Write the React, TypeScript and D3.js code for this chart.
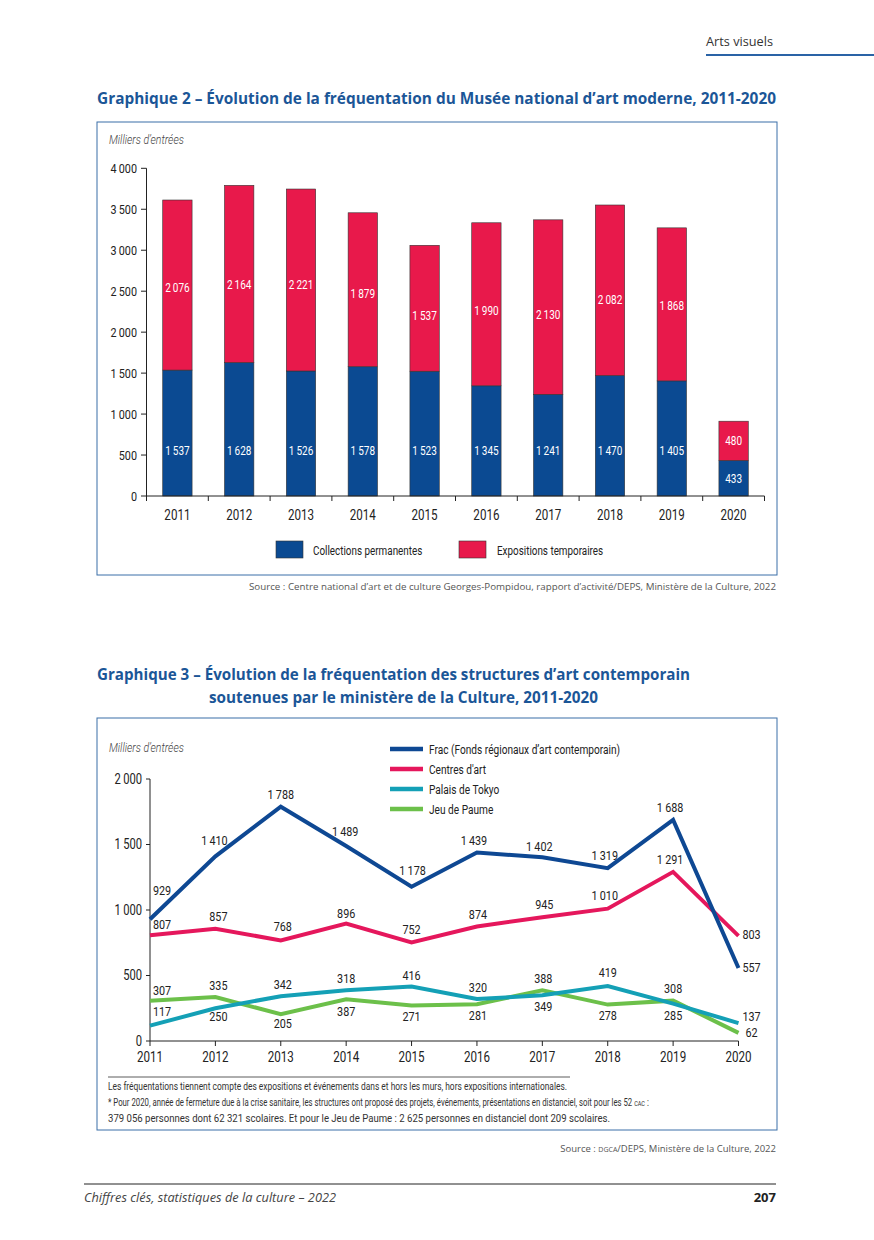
import React from "react";
import * as d3 from "d3";

// ---------- Data: Graphique 2 ----------
const years = ["2011", "2012", "2013", "2014", "2015", "2016", "2017", "2018", "2019", "2020"];
const permanentes = [1537, 1628, 1526, 1578, 1523, 1345, 1241, 1470, 1405, 433];
const temporaires = [2076, 2164, 2221, 1879, 1537, 1990, 2130, 2082, 1868, 480];
const barTicks = [0, 500, 1000, 1500, 2000, 2500, 3000, 3500, 4000];
const barLegend = ["Collections permanentes", "Expositions temporaires"];

// ---------- Data: Graphique 3 ----------
const frac = [929, 1410, 1788, 1489, 1178, 1439, 1402, 1319, 1688, 557];
const centresArt = [807, 857, 768, 896, 752, 874, 945, 1010, 1291, 803];
const palaisTokyo = [117, 250, 342, 387, 416, 320, 349, 419, 285, 137];
const jeuPaume = [307, 335, 205, 318, 271, 281, 388, 278, 308, 62];
const lineTicks = [0, 500, 1000, 1500, 2000];
const seriesNames = [
  "Frac (Fonds régionaux d\u2019art contemporain)",
  "Centres d'art",
  "Palais de Tokyo",
  "Jeu de Paume",
];

// ---------- Styles / layout ----------
const COND = "Roboto, 'Noto Sans', sans-serif";
const SANS = "'Open Sans', 'Noto Sans', sans-serif";
const BLUE = "#0b4a92";
const RED = "#e8194b";
const TITLE = "#1b5697";
const BOX = "#3a6fa8";
const lineColors = ["#0e4893", "#e5175c", "#14a0b6", "#6cc04a"];

// label offsets (px) for bar chart red labels
const redDy = [3, 11, 5, 4, 7, 6, 8, 9, 1, 0];
// line label offsets [dx, dy] per series
const lineLabelOff: number[][][] = [
  [[12, -29], [-1, -16], [0, -12], [-1, -15], [1, -16], [-3, -12], [-3, -11], [-3, -13], [-3, -13], [13, -1]],
  [[12, -11], [3, -12], [2, -14], [0, -10], [0, -13], [1, -12], [2, -13], [-3, -13], [-3, -13], [13, -2]],
  [[12, -14], [3, 8], [2, -12], [0, 21], [0, -11.5], [1, -11.4], [1, 11], [0, -14], [0, 12], [13, -7]],
  [[12, -11], [3, -12], [2, 9], [0, -21], [0, 10.5], [1, 11], [1, -12], [0, 11], [0, -12], [13, -1]],
];

const fmt = (v: number) => {
  const s = String(v);
  return s.length > 3 ? s.slice(0, s.length - 3) + "\u2009" + s.slice(-3) : s;
};

type CTProps = {
  x: number;
  y: number;
  size: number;
  anchor?: "start" | "middle" | "end";
  sx?: number;
  fill?: string;
  italic?: boolean;
  weight?: number;
  family?: string;
  children: React.ReactNode;
};
// condensed text: horizontal scale around the anchor point
function CT({ x, y, size, anchor = "start", sx = 0.8, fill = "#222", italic, weight, family = COND, children }: CTProps) {
  return (
    <text
      transform={`translate(${x},${y}) scale(${sx},1)`}
      textAnchor={anchor}
      dy="0.35em"
      fontFamily={family}
      fontSize={size}
      fontStyle={italic ? "italic" : undefined}
      fontWeight={weight}
      fill={fill}
    >
      {children}
    </text>
  );
}

function BarChart() {
  const x = d3.scaleBand<string>().domain(years).range([146.5, 764.5]).paddingInner(0.525).paddingOuter(0.2625);
  const y = d3.scaleLinear().domain([0, 4000]).range([496, 168.3]);
  const step = x.step();
  const x0 = 146.5;
  return (
    <g>
      <rect x={97} y={122} width={680} height={453} fill="none" stroke={BOX} strokeWidth={1} />
      <CT x={109} y={139} size={13.5} sx={0.78} italic fill="#444" weight={300}>
        Milliers d’entrées
      </CT>
      {/* y axis */}
      <line x1={146.5} x2={146.5} y1={y(4000)} y2={y(0)} stroke="#222" strokeWidth={1} />
      {barTicks.map((t) => (
        <g key={t}>
          <line x1={141} x2={146.5} y1={y(t)} y2={y(t)} stroke="#222" />
          <CT x={137} y={y(t)} anchor="end" size={13.5} sx={0.8}>
            {fmt(t)}
          </CT>
        </g>
      ))}
      {/* bars */}
      {years.map((yr, i) => {
        const bx = x(yr)!;
        const bw = x.bandwidth();
        const p = permanentes[i];
        const t = temporaires[i];
        const blueY = i < 9 ? y(550) : y(p / 2);
        return (
          <g key={yr}>
            <rect x={bx} y={y(p)} width={bw} height={y(0) - y(p)} fill={BLUE} stroke="#333" strokeWidth={0.6} />
            <rect x={bx} y={y(p + t)} width={bw} height={y(p) - y(p + t)} fill={RED} stroke="#333" strokeWidth={0.6} />
            <CT x={bx + bw / 2} y={blueY} anchor="middle" size={12.5} sx={0.8} fill="#fff">
              {fmt(p)}
            </CT>
            <CT x={bx + bw / 2} y={y(p + t / 2) + redDy[i]} anchor="middle" size={12.5} sx={0.8} fill="#fff">
              {fmt(t)}
            </CT>
          </g>
        );
      })}
      {/* x axis */}
      <line x1={146.5} x2={764.5} y1={y(0)} y2={y(0)} stroke="#222" />
      {d3.range(years.length + 1).map((k) => (
        <line key={k} x1={x0 + k * step} x2={x0 + k * step} y1={y(0)} y2={y(0) + 5} stroke="#222" />
      ))}
      {years.map((yr) => (
        <CT key={yr} x={x(yr)! + x.bandwidth() / 2} y={515} anchor="middle" size={14.5} sx={0.8}>
          {yr}
        </CT>
      ))}
      {/* legend */}
      <rect x={276} y={541} width={27} height={17} fill={BLUE} stroke="#333" strokeWidth={0.6} />
      <CT x={313} y={550} size={13} sx={0.76}>{barLegend[0]}</CT>
      <rect x={459} y={541} width={27} height={17} fill={RED} stroke="#333" strokeWidth={0.6} />
      <CT x={497} y={550} size={13} sx={0.76}>{barLegend[1]}</CT>
    </g>
  );
}

function LineChart() {
  const x = d3.scalePoint<string>().domain(years).range([150, 738.5]);
  const y = d3.scaleLinear().domain([0, 2000]).range([1041, 779]);
  const all = [frac, centresArt, palaisTokyo, jeuPaume];
  const line = d3
    .line<number>()
    .x((_, i) => x(years[i])!)
    .y((d) => y(d))
    .curve(d3.curveLinear);
  return (
    <g>
      <rect x={97} y={718} width={680} height={412} fill="none" stroke={BOX} strokeWidth={1} />
      <CT x={109} y={747} size={13.5} sx={0.78} italic fill="#444" weight={300}>
        Milliers d’entrées
      </CT>
      {/* y axis */}
      <line x1={150} x2={150} y1={y(2000)} y2={y(0)} stroke="#222" />
      {lineTicks.map((t) => (
        <g key={t}>
          <line x1={146} x2={150} y1={y(t)} y2={y(t)} stroke="#222" />
          <CT x={142} y={y(t)} anchor="end" size={14} sx={0.8}>
            {fmt(t)}
          </CT>
        </g>
      ))}
      {/* x axis */}
      <line x1={150} x2={738.5} y1={y(0)} y2={y(0)} stroke="#222" />
      {years.map((yr) => (
        <g key={yr}>
          <line x1={x(yr)} x2={x(yr)} y1={y(0)} y2={y(0) + 5} stroke="#222" />
          <CT x={x(yr)!} y={1057} anchor="middle" size={14.5} sx={0.8}>
            {yr}
          </CT>
        </g>
      ))}
      {/* lines */}
      {[3, 2, 1, 0].map((s) => (
        <path key={s} d={line(all[s])!} fill="none" stroke={lineColors[s]} strokeWidth={4} strokeLinejoin="miter" />
      ))}
      {/* labels */}
      {all.map((series, s) =>
        series.map((v, i) => (
          <CT
            key={s + "-" + i}
            x={x(years[i])! + lineLabelOff[s][i][0]}
            y={y(v) + lineLabelOff[s][i][1]}
            anchor="middle"
            size={13.5}
            sx={0.8}
          >
            {fmt(v)}
          </CT>
        ))
      )}
      {/* legend */}
      {seriesNames.map((n, s) => (
        <g key={n}>
          <line x1={390} x2={423} y1={749 + s * 20} y2={749 + s * 20} stroke={lineColors[s]} strokeWidth={4.5} />
          <CT x={429} y={749 + s * 20} size={13} sx={0.78}>
            {n}
          </CT>
        </g>
      ))}
      {/* notes */}
      <line x1={108} x2={570} y1={1077} y2={1077} stroke="#333" strokeWidth={0.8} />
      <text x={108} y={1090} fontFamily={COND} fontSize={10.5} fill="#333" textLength={459} lengthAdjust="spacingAndGlyphs">
        Les fréquentations tiennent compte des expositions et événements dans et hors les murs, hors expositions internationales.
      </text>
      <text transform="translate(108,1106) scale(0.742,1)" fontFamily={COND} fontSize={10.5} fill="#333">
        * Pour 2020, année de fermeture due à la crise sanitaire, les structures ont proposé des projets, événements, présentations en distanciel, soit pour les 52{" "}
        <tspan fontSize={7.5}>CAC</tspan> :
      </text>
      <text x={108} y={1122} fontFamily={COND} fontSize={10.5} fill="#333" textLength={502} lengthAdjust="spacingAndGlyphs">
        379 056 personnes dont 62 321 scolaires. Et pour le Jeu de Paume : 2 625 personnes en distanciel dont 209 scolaires.
      </text>
    </g>
  );
}

export default function App() {
  return (
    <svg
      width={874}
      height={1240}
      viewBox="0 0 874 1240"
      style={{ position: "absolute", left: 0, top: 0, background: "#fff" }}
    >
      <rect x={0} y={0} width={874} height={1240} fill="#fff" />
      {/* header */}
      <text x={706} y={46} fontFamily={SANS} fontSize={13} fill="#333" textLength={67} lengthAdjust="spacingAndGlyphs">
        Arts visuels
      </text>
      <line x1={706} x2={874} y1={55} y2={55} stroke="#2a63a6" strokeWidth={2} />
      {/* title 1 */}
      <text x={97} y={104} fontFamily={SANS} fontWeight={700} fontSize={15.5} fill={TITLE} textLength={679} lengthAdjust="spacingAndGlyphs">
        Graphique 2 – Évolution de la fréquentation du Musée national d’art moderne, 2011-2020
      </text>
      <BarChart />
      <text x={776} y={590} textAnchor="end" fontFamily={SANS} fontSize={9.5} fill="#555" textLength={527} lengthAdjust="spacingAndGlyphs">
        Source : Centre national d’art et de culture Georges-Pompidou, rapport d’activité/DEPS, Ministère de la Culture, 2022
      </text>
      {/* title 2 */}
      <text x={97} y={680} fontFamily={SANS} fontWeight={700} fontSize={15.5} fill={TITLE} textLength={593} lengthAdjust="spacingAndGlyphs">
        Graphique 3 – Évolution de la fréquentation des structures d’art contemporain
      </text>
      <text x={209} y={703} fontFamily={SANS} fontWeight={700} fontSize={15.5} fill={TITLE} textLength={389} lengthAdjust="spacingAndGlyphs">
        soutenues par le ministère de la Culture, 2011-2020
      </text>
      <LineChart />
      <text x={776} y={1152} textAnchor="end" fontFamily={SANS} fontSize={9.5} fill="#555">
        Source : <tspan fontSize={7}>DGCA</tspan>/DEPS, Ministère de la Culture, 2022
      </text>
      {/* footer */}
      <line x1={84} x2={776} y1={1184} y2={1184} stroke="#222" strokeWidth={1} />
      <text x={84} y={1202} fontFamily={SANS} fontStyle="italic" fontSize={13} fill="#444" textLength={252} lengthAdjust="spacingAndGlyphs">
        Chiffres clés, statistiques de la culture – 2022
      </text>
      <text x={776} y={1202} textAnchor="end" fontFamily={SANS} fontWeight={700} fontSize={13} fill="#222">
        207
      </text>
    </svg>
  );
}
